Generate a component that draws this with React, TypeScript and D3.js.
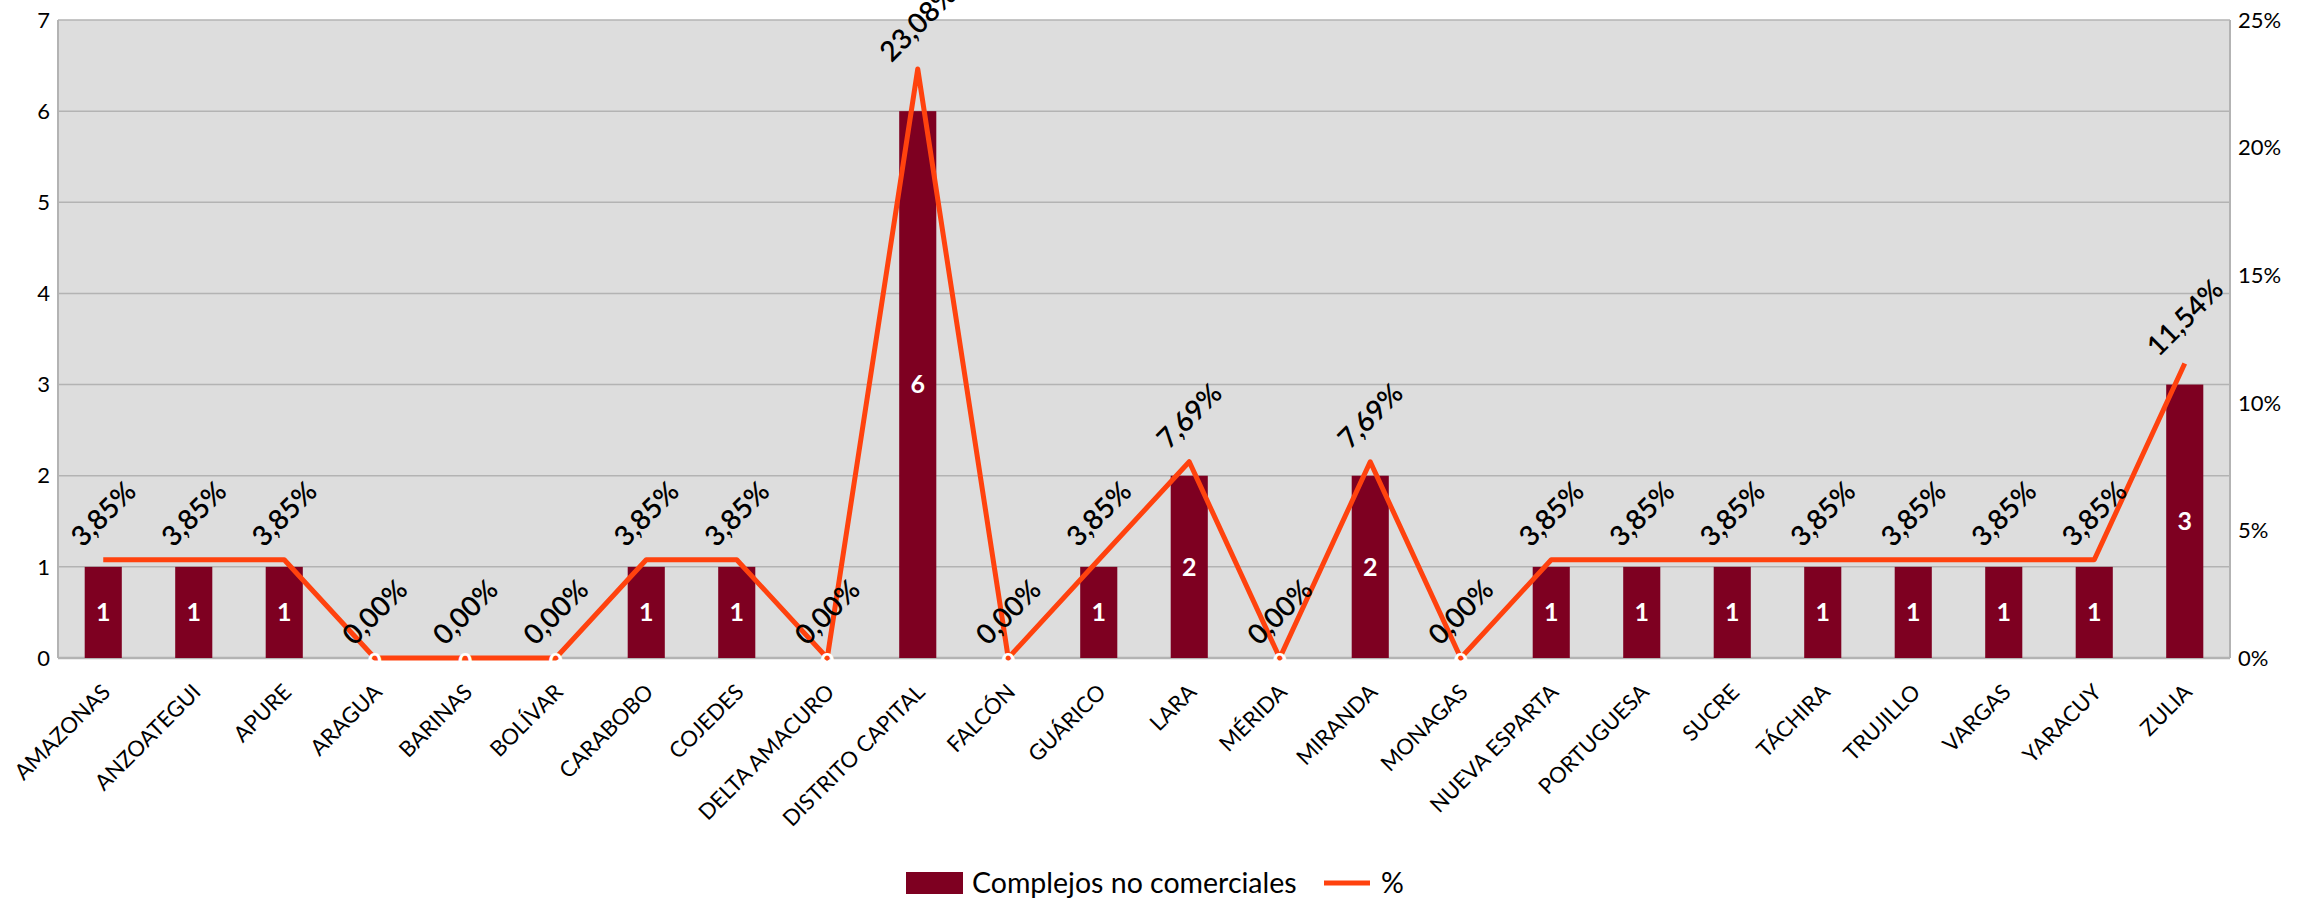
import React from "react";
import * as d3 from "d3";

const categories = [
  "AMAZONAS", "ANZOATEGUI", "APURE", "ARAGUA", "BARINAS", "BOLÍVAR", "CARABOBO", "COJEDES",
  "DELTA AMACURO", "DISTRITO CAPITAL", "FALCÓN", "GUÁRICO", "LARA", "MÉRIDA", "MIRANDA", "MONAGAS",
  "NUEVA ESPARTA", "PORTUGUESA", "SUCRE", "TÁCHIRA", "TRUJILLO", "VARGAS", "YARACUY", "ZULIA",
];
const complejos = [1, 1, 1, 0, 0, 0, 1, 1, 0, 6, 0, 1, 2, 0, 2, 0, 1, 1, 1, 1, 1, 1, 1, 3];
const percent = [3.85, 3.85, 3.85, 0, 0, 0, 3.85, 3.85, 0, 23.08, 0, 3.85, 7.69, 0, 7.69, 0, 3.85, 3.85, 3.85, 3.85, 3.85, 3.85, 3.85, 11.54];
const leftTicks = [0, 1, 2, 3, 4, 5, 6, 7];
const rightTicks = [0, 5, 10, 15, 20, 25];
const seriesNames = ["Complejos no comerciales", "%"];

const W = 2309, H = 899;
const M = { left: 58, right: 2230, top: 20, bottom: 658 };
const FONT = "Lato, 'Open Sans', sans-serif";
const BAR = "#7e0021";
const LINE = "#ff420e";
const GRID = "#b3b3b3";

export default function App() {
  const x = d3.scaleBand<string>().domain(categories).range([M.left, M.right]).paddingInner(0).paddingOuter(0);
  const bw = x.bandwidth() * 0.41;
  const y = d3.scaleLinear().domain([0, 7]).range([M.bottom, M.top]);
  const y2 = d3.scaleLinear().domain([0, 25]).range([M.bottom, M.top]);
  const cx = (c: string) => (x(c) as number) + x.bandwidth() / 2;
  const line = d3.line<number>().x((_, i) => cx(categories[i])).y((d) => y2(d));
  const fmt = (v: number) => v.toFixed(2).replace(".", ",") + "%";

  return (
    <svg width={W} height={H} style={{ position: "absolute", left: 0, top: 0 }} fontFamily={FONT}>
      <rect x={0} y={0} width={W} height={H} fill="#ffffff" />
      <rect x={M.left} y={M.top} width={M.right - M.left} height={M.bottom - M.top} fill="#dddddd" />
      {leftTicks.map((t) => (
        <line key={"g" + t} x1={M.left} x2={M.right} y1={y(t)} y2={y(t)} stroke={GRID} strokeWidth={1.5} />
      ))}
      <line x1={M.left} x2={M.left} y1={M.top} y2={M.bottom} stroke={GRID} strokeWidth={2} />
      <line x1={M.right} x2={M.right} y1={M.top} y2={M.bottom} stroke={GRID} strokeWidth={2} />
      <line x1={M.left} x2={M.right} y1={M.bottom} y2={M.bottom} stroke={GRID} strokeWidth={2.5} />
      {leftTicks.map((t) => (
        <text key={"l" + t} x={50} y={y(t)} dy="0.35em" textAnchor="end" fontSize={22} fill="#000">{t}</text>
      ))}
      {rightTicks.map((t) => (
        <text key={"r" + t} x={2238} y={y2(t)} dy="0.35em" textAnchor="start" fontSize={22} fill="#000">{t + "%"}</text>
      ))}
      {categories.map((c, i) => (
        <rect key={"b" + c} x={cx(c) - bw / 2} y={y(complejos[i])} width={bw} height={M.bottom - y(complejos[i])} fill={BAR} />
      ))}
      {categories.map((c, i) =>
        complejos[i] > 0 ? (
          <text key={"bl" + c} x={cx(c)} y={(y(complejos[i]) + M.bottom) / 2} dy="0.35em" textAnchor="middle" fontSize={25} fontWeight="bold" fill="#fff">{complejos[i]}</text>
        ) : null
      )}
      <path d={line(percent) as string} fill="none" stroke={LINE} strokeWidth={5} strokeLinejoin="round" />
      {categories.map((c, i) => (
        <text key={"pl" + c} transform={`translate(${cx(c)},${y2(percent[i]) - 46}) rotate(-45)`} dy="0.35em" textAnchor="middle" fontSize={28} fontWeight={600} fill="#000">{fmt(percent[i])}</text>
      ))}
      {categories.map((c, i) =>
        complejos[i] === 0 ? (
          <text key={"z" + c} x={cx(c)} y={M.bottom + 4} dy="0.35em" textAnchor="middle" fontSize={25} fontWeight="bold" fill="#fff">0</text>
        ) : null
      )}
      {categories.map((c) => (
        <text key={"c" + c} transform={`translate(${cx(c) + 3},${688}) rotate(-45)`} dy="0.35em" textAnchor="end" fontSize={22} fill="#000">{c}</text>
      ))}
      <g>
        <rect x={906} y={872} width={57} height={22} fill={BAR} />
        <text x={972} y={883} dy="0.35em" fontSize={28.5} fill="#000">{seriesNames[0]}</text>
        <line x1={1324} x2={1370} y1={883} y2={883} stroke={LINE} strokeWidth={5} />
        <text x={1381} y={883} dy="0.35em" fontSize={28.5} fill="#000">{seriesNames[1]}</text>
      </g>
    </svg>
  );
}
